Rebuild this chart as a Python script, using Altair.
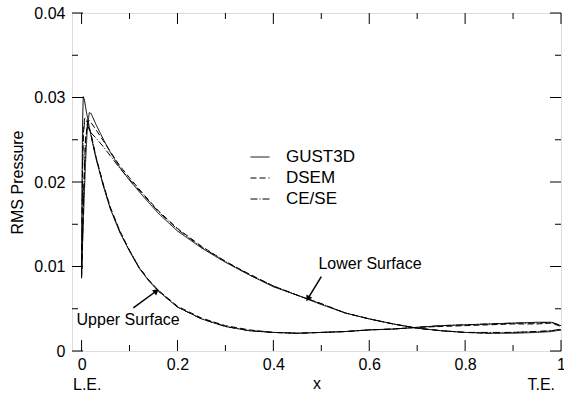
import altair as alt
import pandas as pd

# ---------------- data ----------------
series_names = ["GUST3D", "DSEM", "CE/SE"]

x_lower = [0.0, 0.004, 0.008, 0.012, 0.016, 0.02, 0.03, 0.045, 0.06, 0.08, 0.1, 0.13, 0.16,
           0.2, 0.25, 0.3, 0.35, 0.4, 0.45, 0.5, 0.55, 0.6, 0.65, 0.7, 0.75, 0.8, 0.85,
           0.9, 0.95, 0.98, 1.0]
gust_lower = [0.0093, 0.0160, 0.0220, 0.0265, 0.0282, 0.0281, 0.0268, 0.0251, 0.0235, 0.0217,
              0.0202, 0.0182, 0.0163, 0.0142, 0.0122, 0.0105, 0.0090, 0.0076, 0.0066, 0.0055,
              0.0045, 0.0038, 0.0032, 0.0027, 0.0024, 0.0022, 0.0021, 0.0021, 0.0022, 0.0023,
              0.0025]
dsem_lower = [0.0086, 0.0175, 0.0245, 0.0270, 0.0273, 0.0270, 0.0262, 0.0249, 0.0236, 0.0219,
              0.0205, 0.0185, 0.0166, 0.0145, 0.0124, 0.0106, 0.0091, 0.0077, 0.0066, 0.0056,
              0.0045, 0.0038, 0.0032, 0.0027, 0.0024, 0.0022, 0.0021, 0.0022, 0.0023, 0.0024,
              0.0025]
cese_lower = [0.0090, 0.0185, 0.0250, 0.0266, 0.0262, 0.0258, 0.0252, 0.0242, 0.0231, 0.0216,
              0.0203, 0.0184, 0.0165, 0.0144, 0.0123, 0.0106, 0.0090, 0.0077, 0.0066, 0.0056,
              0.0045, 0.0038, 0.0032, 0.0027, 0.0024, 0.0022, 0.0022, 0.0022, 0.0023, 0.0024,
              0.0026]

x_upper = [0.0, 0.001, 0.002, 0.0035, 0.006, 0.01, 0.02, 0.03, 0.045, 0.06, 0.08, 0.1, 0.12,
           0.14, 0.16, 0.2, 0.25, 0.3, 0.35, 0.4, 0.45, 0.5, 0.55, 0.6, 0.65, 0.7, 0.75, 0.8,
           0.85, 0.9, 0.95, 0.98, 1.0]
gust_upper = [0.0098, 0.0200, 0.0270, 0.0301, 0.0297, 0.0283, 0.0254, 0.0228, 0.0196, 0.0168,
              0.0140, 0.0118, 0.0098, 0.0083, 0.0071, 0.0052, 0.0038, 0.0029, 0.0024, 0.0022,
              0.0021, 0.0022, 0.0023, 0.0025, 0.0026, 0.0028, 0.0030, 0.0031, 0.0032, 0.0033,
              0.0034, 0.0034, 0.0030]
dsem_upper = [0.0088, 0.0150, 0.0210, 0.0255, 0.0275, 0.0276, 0.0256, 0.0230, 0.0198, 0.0170,
              0.0142, 0.0119, 0.0099, 0.0084, 0.0072, 0.0053, 0.0039, 0.0030, 0.0025, 0.0022,
              0.0021, 0.0022, 0.0023, 0.0025, 0.0026, 0.0028, 0.0029, 0.0030, 0.0031, 0.0032,
              0.0032, 0.0033, 0.0029]
cese_upper = [0.0092, 0.0160, 0.0220, 0.0258, 0.0270, 0.0272, 0.0255, 0.0229, 0.0197, 0.0169,
              0.0141, 0.0119, 0.0099, 0.0084, 0.0071, 0.0052, 0.0038, 0.0029, 0.0024, 0.0022,
              0.0021, 0.0022, 0.0023, 0.0025, 0.0026, 0.0028, 0.0030, 0.0031, 0.0032, 0.0033,
              0.0033, 0.0034, 0.0030]

x_major = [0.0, 0.2, 0.4, 0.6, 0.8, 1.0]
x_minor = [0.1, 0.3, 0.5, 0.7, 0.9]
y_major = [0.0, 0.01, 0.02, 0.03, 0.04]
y_minor = [0.005, 0.015, 0.025, 0.035]

annot_text = ["Upper Surface", "Lower Surface"]
annot_x = [-0.0105, 0.494]
annot_y = [0.0037, 0.0103]
arrow_x0 = [0.108, 0.500]
arrow_y0 = [0.0051, 0.0088]
arrow_x1 = [0.156, 0.472]
arrow_y1 = [0.0071, 0.0062]
arrow_angle = [52, 210]

edge_labels = ["L.E.", "T.E."]

# ---------------- tables ----------------
rows = []
for name, xs, ys in [("GUST3D", x_lower, gust_lower), ("DSEM", x_lower, dsem_lower),
                     ("CE/SE", x_lower, cese_lower)]:
    for i, (a, b) in enumerate(zip(xs, ys)):
        rows.append({"series": name, "surface": "lower", "x": a, "p": b, "i": i})
for name, xs, ys in [("GUST3D", x_upper, gust_upper), ("DSEM", x_upper, dsem_upper),
                     ("CE/SE", x_upper, cese_upper)]:
    for i, (a, b) in enumerate(zip(xs, ys)):
        rows.append({"series": name, "surface": "upper", "x": a, "p": b, "i": i})
df = pd.DataFrame(rows)

W, H = 489, 338
FONT = "Liberation Sans"

xs = alt.Scale(domain=[-0.02, 1.0], nice=False, zero=False)
ys = alt.Scale(domain=[0, 0.04], nice=False)

lines = alt.Chart(df).mark_line(color="black", strokeWidth=1).encode(
    x=alt.X("x:Q", scale=xs,
            axis=alt.Axis(values=x_major, labelExpr="datum.value == 0 ? '0' : datum.value == 1 ? '1' : format(datum.value, '.1f')",
                          ticks=False, domain=False, grid=False, labelPadding=5,
                          labelFontSize=16, labelFlush=False, labelColor="black",
                          title="x", titleFontSize=16, titleFontWeight="normal",
                          titlePadding=3, titleColor="black")),
    y=alt.Y("p:Q", scale=ys,
            axis=alt.Axis(values=y_major, labelExpr="datum.value == 0 ? '0' : format(datum.value, '.2f')",
                          ticks=False, domain=False, grid=False, labelPadding=7,
                          labelFontSize=16, labelColor="black", labelFlush=False,
                          title="RMS Pressure", titleFontSize=16, titleFontWeight="normal",
                          titlePadding=8, titleColor="black")),
    strokeDash=alt.StrokeDash("series:N", sort=series_names,
                              scale=alt.Scale(domain=series_names,
                                              range=[[1, 0], [6, 3], [7, 2, 1, 2]]),
                              legend=alt.Legend(title=None, orient="none", legendX=178, legendY=134,
                                                symbolType="stroke", symbolStrokeColor="black",
                                                symbolStrokeWidth=1, symbolSize=360,
                                                labelFontSize=17, labelColor="black",
                                                labelOffset=16, rowPadding=3)),
    detail="surface:N",
    order="i:Q",
)

tx_major = pd.DataFrame({"v": x_major})
tx_minor = pd.DataFrame({"v": x_minor})
ty_major = pd.DataFrame({"v": y_major})
ty_minor = pd.DataFrame({"v": y_minor})

def xticks(d, L):
    b = alt.Chart(d).mark_rule(color="black", strokeWidth=1).encode(
        x=alt.X("v:Q", scale=xs), y=alt.value(H), y2=alt.value(H - L))
    t = alt.Chart(d).mark_rule(color="black", strokeWidth=1).encode(
        x=alt.X("v:Q", scale=xs), y=alt.value(0), y2=alt.value(L))
    return b + t

def yticks(d, L):
    l = alt.Chart(d).mark_rule(color="black", strokeWidth=1).encode(
        y=alt.Y("v:Q", scale=ys), x=alt.value(0), x2=alt.value(L))
    r = alt.Chart(d).mark_rule(color="black", strokeWidth=1).encode(
        y=alt.Y("v:Q", scale=ys), x=alt.value(W), x2=alt.value(W - L))
    return l + r

adf = pd.DataFrame({"t": annot_text, "x": annot_x, "y": annot_y,
                    "x0": arrow_x0, "y0": arrow_y0, "x1": arrow_x1, "y1": arrow_y1,
                    "a": arrow_angle})
annots = alt.Chart(adf).mark_text(align="left", baseline="middle", fontSize=16,
                                  font=FONT, color="black").encode(
    x=alt.X("x:Q", scale=xs), y=alt.Y("y:Q", scale=ys), text="t:N")
shafts = alt.Chart(adf).mark_rule(color="black", strokeWidth=1.5).encode(
    x=alt.X("x0:Q", scale=xs), y=alt.Y("y0:Q", scale=ys),
    x2="x1:Q", y2="y1:Q")
heads = alt.Chart(adf).mark_point(shape="triangle-up", filled=True, color="black",
                                  size=45, opacity=1).encode(
    x=alt.X("x1:Q", scale=xs), y=alt.Y("y1:Q", scale=ys), angle=alt.Angle("a:Q", scale=None))

edf = pd.DataFrame({"t": edge_labels, "pos": [0, 1]})
le = alt.Chart(edf).transform_filter("datum.pos == 0").mark_text(
    align="left", baseline="middle", fontSize=16, font=FONT, color="black").encode(
    x=alt.value(1), y=alt.value(H + 34), text="t:N")
te = alt.Chart(edf).transform_filter("datum.pos == 1").mark_text(
    align="right", baseline="middle", fontSize=16, font=FONT, color="black").encode(
    x=alt.value(W - 6), y=alt.value(H + 34), text="t:N")

chart = alt.layer(
    lines, xticks(tx_major, 11), xticks(tx_minor, 6), yticks(ty_major, 11), yticks(ty_minor, 6),
    shafts, heads, annots, le, te,
).properties(
    width=W, height=H,
    autosize=alt.AutoSizeParams(type="none"),
    padding={"left": 72, "top": 13, "right": 3, "bottom": 66},
    background="white",
).configure_view(stroke="black", strokeWidth=1.2).configure(font=FONT)

chart.save("out.html", embed_options={"renderer": "svg", "actions": False})
